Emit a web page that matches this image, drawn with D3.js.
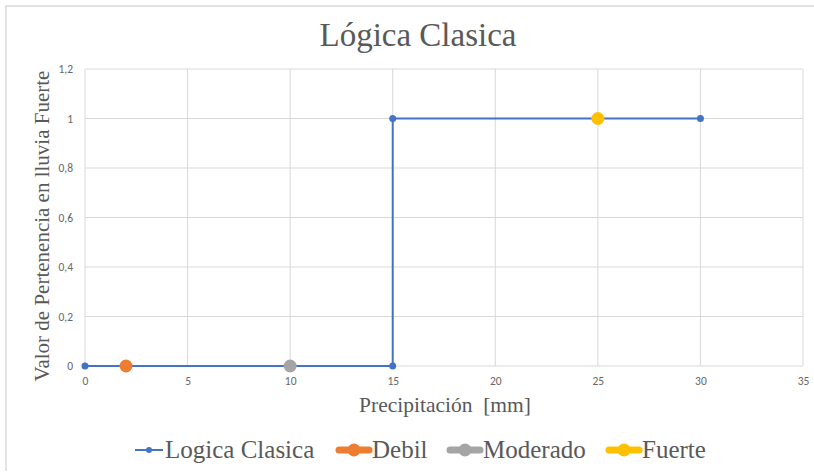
<!DOCTYPE html>
<html><head><meta charset="utf-8">
<script src="https://cdn.jsdelivr.net/npm/d3@7"></script>
<style>body{margin:0;background:#fff;}svg{display:block;}</style>
</head><body>
<svg id="c" width="814" height="472"></svg>
<script>
const title = "Lógica Clasica";
const xTitle = "Precipitación  [mm]";
const yTitle = "Valor de Pertenencia en lluvia Fuerte";
const xTicks = [0, 5, 10, 15, 20, 25, 30, 35];
const yTicks = [0, 0.2, 0.4, 0.6, 0.8, 1, 1.2];
const logicaX = [0, 15, 15, 30];
const logicaY = [0, 0, 1, 1];
const debil = [[2, 0]];
const moderado = [[10, 0]];
const fuerte = [[25, 1]];
const seriesNames = ["Logica Clasica", "Debil", "Moderado", "Fuerte"];
const colors = ["#4472C4", "#ED7D31", "#A5A5A5", "#FFC000"];

const svg = d3.select("#c");
const x = d3.scaleLinear().domain([0, 35]).range([85, 803]);
const y = d3.scaleLinear().domain([0, 1.2]).range([366, 69]);
const fmt = d => String(d).replace(".", ",");

// outer frame
svg.append("path").attr("d", "M6,471 L6,6 L814,6").attr("fill", "none").attr("stroke", "#d9d9d9").attr("stroke-width", 1.5);

// gridlines
svg.append("g").selectAll("line").data(yTicks).join("line")
  .attr("x1", x(0)).attr("x2", x(35)).attr("y1", d => y(d)).attr("y2", d => y(d))
  .attr("stroke", "#d9d9d9").attr("stroke-width", 1);
svg.append("g").selectAll("line").data(xTicks).join("line")
  .attr("x1", d => x(d)).attr("x2", d => x(d)).attr("y1", y(0)).attr("y2", y(1.2))
  .attr("stroke", "#d9d9d9").attr("stroke-width", 1);

// axes (labels only)
const tickFont = "Calibri, Carlito, 'Open Sans', sans-serif";
const xAxis = d3.axisBottom(x).tickValues(xTicks).tickSize(0).tickPadding(11).tickFormat(fmt);
const gx = svg.append("g").attr("transform", `translate(0,${y(0)})`).call(xAxis);
gx.select(".domain").remove();
gx.selectAll("text").attr("fill", "#666").style("font-family", tickFont).style("font-size", "11.5px");
const yAxis = d3.axisLeft(y).tickValues(yTicks).tickSize(0).tickPadding(12).tickFormat(fmt);
const gy = svg.append("g").attr("transform", `translate(${x(0)},0)`).call(yAxis);
gy.select(".domain").remove();
gy.selectAll("text").attr("fill", "#666").style("font-family", tickFont).style("font-size", "11.5px");

// line series
const pts = logicaX.map((v, i) => [v, logicaY[i]]);
svg.append("path").datum(pts)
  .attr("d", d3.line().x(d => x(d[0])).y(d => y(d[1])))
  .attr("fill", "none").attr("stroke", colors[0]).attr("stroke-width", 2);
svg.append("g").selectAll("circle").data(pts).join("circle")
  .attr("cx", d => x(d[0])).attr("cy", d => y(d[1])).attr("r", 3.5).attr("fill", colors[0]);

[[debil, colors[1]], [moderado, colors[2]], [fuerte, colors[3]]].forEach(([data, col]) => {
  svg.append("g").selectAll("circle").data(data).join("circle")
    .attr("cx", d => x(d[0])).attr("cy", d => y(d[1])).attr("r", 6.5).attr("fill", col);
});

// titles
const serif = "'Liberation Serif', 'Times New Roman', serif";
svg.append("text").attr("x", 418).attr("y", 46).attr("text-anchor", "middle")
  .style("font-family", serif).style("font-size", "33px").attr("fill", "#595959").text(title);
svg.append("text").attr("x", 445).attr("y", 412).attr("text-anchor", "middle")
  .style("font-family", serif).style("font-size", "21.5px").attr("fill", "#595959").attr("xml:space", "preserve").style("white-space", "pre").text(xTitle);
svg.append("text").attr("transform", `translate(49,226) rotate(-90)`).attr("text-anchor", "middle")
  .style("font-family", serif).style("font-size", "21px").attr("fill", "#595959").text(yTitle);

// legend
const legX = [135, 337, 448, 607];
const lg = svg.append("g");
seriesNames.forEach((name, i) => {
  const g = lg.append("g").attr("transform", `translate(${legX[i]},450)`);
  if (i === 0) {
    g.append("line").attr("x1", 0).attr("x2", 28).attr("y1", 0).attr("y2", 0).attr("stroke", colors[0]).attr("stroke-width", 2);
    g.append("circle").attr("cx", 14).attr("cy", 0).attr("r", 3).attr("fill", colors[0]);
  } else {
    g.append("line").attr("x1", 2).attr("x2", 32).attr("y1", 0).attr("y2", 0).attr("stroke", colors[i]).attr("stroke-width", 7).attr("stroke-linecap", "round");
    g.append("circle").attr("cx", 17).attr("cy", 0).attr("r", 6.5).attr("fill", colors[i]);
  }
  g.append("text").attr("x", i === 0 ? 30 : 35).attr("y", 8)
    .style("font-family", serif).style("font-size", "25px").attr("fill", "#595959").text(name);
});
</script>
</body></html>
